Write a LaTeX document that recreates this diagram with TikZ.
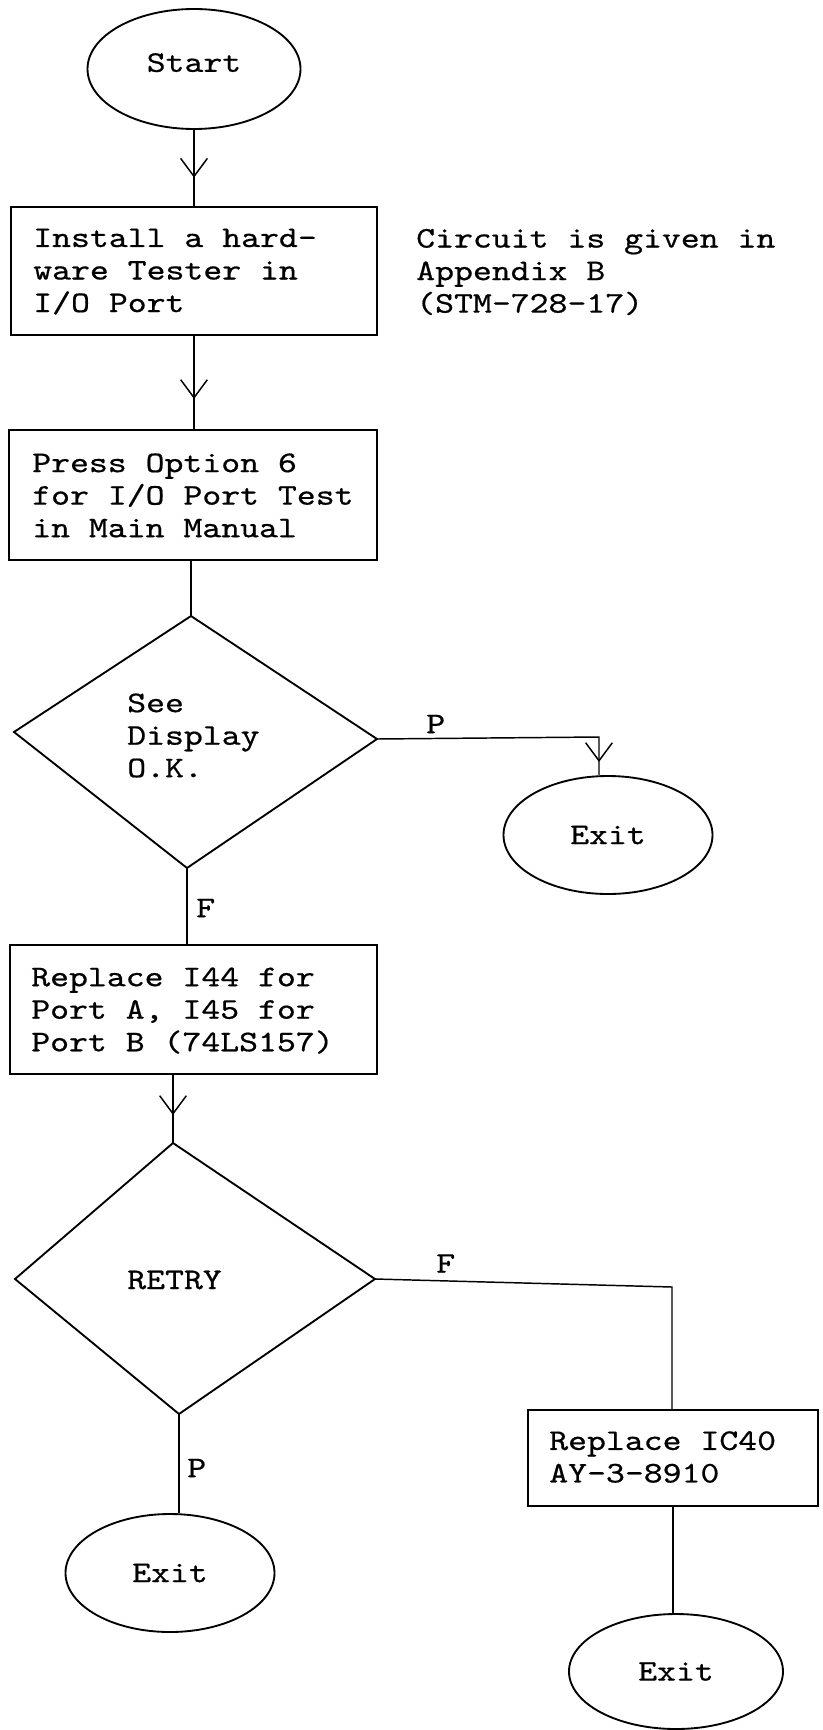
\documentclass[tikz,border=0pt]{standalone}
\usepackage{fontspec}
\newfontfamily\tw{lmmono10-regular}[Extension=.otf,FakeStretch=1.2,FakeBold=0.6]
\usetikzlibrary{shapes.geometric,arrows.meta,decorations.markings}
\newcommand\pxu{0.75pt}
\begin{document}
\begin{tikzpicture}[x=0.75pt,y=-0.75pt,
  txt/.style={font=\tw\fontsize{22.5pt}{24.4pt}\selectfont, inner sep=0pt, align=left, anchor=west},
  box/.style={draw, line width=1.4pt, rectangle, inner sep=0pt},
  term/.style={draw, line width=1.4pt, ellipse, inner sep=0pt, font=\tw\fontsize{22.5pt}{24.4pt}\selectfont},
  conn/.style={line width=1.1pt},
  outline/.style={line width=1.4pt, line join=miter},
  midarrow/.style={postaction={decorate}, decoration={markings, mark=at position #1 with {\arrow{Straight Barb[length=13.5pt,width=20pt,line width=1.1pt]}}}}
]
\useasboundingbox (0,0) rectangle (822,1730);

% Start
\node[term, minimum width=213*\pxu, minimum height=120*\pxu, text depth=13*\pxu] (start) at (194,69) {Start};

% Box 1 + note
\node[box, minimum width=366*\pxu, minimum height=128*\pxu] (b1) at (194,271) {};
\node[txt] (t1) at (33,271.6) {Install a hard-\\ware Tester in\\I/O Port};
\node[txt] (note) at (416,272) {Circuit is given in\\Appendix B\\(STM-728-17)};

% Box 2
\node[box, minimum width=368*\pxu, minimum height=130*\pxu] (b2) at (193,495) {};
\node[txt] (t2) at (32,495.4) {Press Option 6\\for I/O Port Test\\in Main Manual};

% Diamond 1
\coordinate (d1t) at (191,616);
\coordinate (d1r) at (377,739);
\coordinate (d1b) at (187,868);
\coordinate (d1l) at (14,732);
\draw[outline] (d1t) -- (d1r) -- (d1b) -- (d1l) -- cycle;
\node[txt] (t3) at (127,735.5) {See\\Display\\O.K.};

% Exit 1
\node[term, minimum width=209*\pxu, minimum height=118*\pxu] (e1) at (608,835) {Exit};
\coordinate (pc) at (599,737);
\node[txt] (lp1) at (426,724) {P};

% Box 3
\node[box, minimum width=367*\pxu, minimum height=129*\pxu] (b3) at (193.5,1009.5) {};
\node[txt] (t4) at (31,1010.6) {Replace I44 for\\Port A, I45 for\\Port B (74LS157)};
\node[txt] (lf1) at (196,908) {F};

% Diamond 2
\coordinate (d2t) at (173,1143);
\coordinate (d2r) at (375,1279);
\coordinate (d2b) at (179,1414);
\coordinate (d2l) at (15,1279);
\draw[outline] (d2t) -- (d2r) -- (d2b) -- (d2l) -- cycle;
\node[txt] (t5) at (127,1280) {RETRY};
\node[txt] (lf2) at (436,1263.5) {F};
\coordinate (fc) at (672,1287);

% Box 4
\node[box, minimum width=290*\pxu, minimum height=96*\pxu] (b4) at (673,1458) {};
\node[txt] (t6) at (549,1457) {Replace IC40\\AY-3-8910};

% Exits 2 and 3
\node[txt] (lp2) at (187,1468) {P};
\node[term, minimum width=209*\pxu, minimum height=118*\pxu] (e2) at (170,1573) {Exit};
\node[term, minimum width=214*\pxu, minimum height=115*\pxu] (e3) at (676,1671.5) {Exit};

% Connectors
\draw[conn, midarrow=35.8pt] (start.south) -- (start.south |- b1.north);
\draw[conn, midarrow=47.25pt] (b1.south) -- (b1.south |- b2.north);
\draw[conn] (b2.south -| d1t) -- (d1t);
\draw[conn, midarrow=185.25pt] (d1r) -- (pc) -- (pc |- e1.north);
\draw[conn] (d1b) -- (d1b |- b3.north);
\draw[conn, midarrow=30pt] (b3.south -| d2t) -- (d2t);
\draw[conn] (d2r) -- (fc) -- (fc |- b4.north);
\draw[conn] (d2b) -- (d2b |- e2.north);
\draw[conn] (b4.south) -- (b4.south |- e3.north);
\end{tikzpicture}
\end{document}
